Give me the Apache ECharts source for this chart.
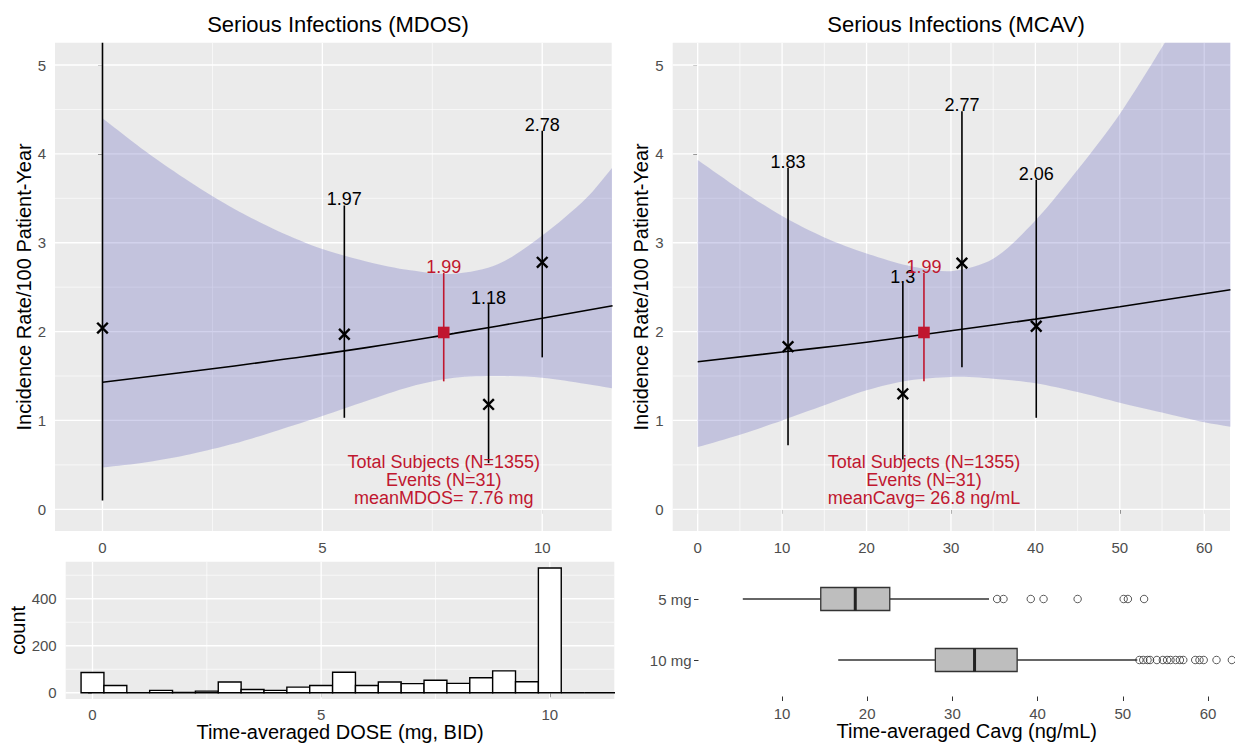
<!DOCTYPE html>
<html>
<head>
<meta charset="utf-8">
<script src="https://cdn.jsdelivr.net/npm/echarts@6.0.0/dist/echarts.min.js"></script>
<style>html,body{margin:0;padding:0;background:#fff}#c{width:1235px;height:743px}</style>
</head>
<body>
<div id="c"></div>
<script>
// ---------------- DATA ----------------
// Left panel: incidence vs time-averaged dose (MDOS)
const mdosX     = [0, 5.5, 8.78, 10];
const mdosRate  = [2.04, 1.97, 1.18, 2.78];
const mdosLow   = [0.10, 1.03, 0.52, 1.71];
const mdosHigh  = [5.6, 3.42, 2.31, 4.26];
const mdosMean  = [7.76, 1.99, 1.44, 2.66];          // x, rate, low, high
const mdosFitX  = [0, 2, 4, 6, 8, 10, 11.6];
const mdosFitY  = [1.43, 1.55, 1.68, 1.82, 1.98, 2.15, 2.29];
const mdosBandX = [0, 1, 2, 3, 4, 5, 6, 7, 8, 9, 10, 11, 11.6];
const mdosBandLow  = [0.47, 0.53, 0.62, 0.74, 0.89, 1.05, 1.22, 1.38, 1.48, 1.50, 1.48, 1.41, 1.36];
const mdosBandHigh = [4.40, 4.02, 3.68, 3.38, 3.13, 2.93, 2.79, 2.69, 2.65, 2.76, 3.08, 3.50, 3.85];
const mdosNote  = ['Total Subjects (N=1355)', 'Events (N=31)', 'meanMDOS= 7.76 mg'];

// Right panel: incidence vs Cavg (MCAV)
const mcavX     = [10.7, 24.3, 31.3, 40.1];
const mcavRate  = [1.83, 1.3, 2.77, 2.06];
const mcavLow   = [0.72, 0.56, 1.60, 1.03];
const mcavHigh  = [3.84, 2.55, 4.48, 3.71];
const mcavMean  = [26.8, 1.99, 1.44, 2.66];
const mcavFitX  = [0, 10, 20, 30, 40, 50, 63.1];
const mcavFitY  = [1.66, 1.77, 1.88, 2.01, 2.14, 2.28, 2.47];
const mcavBandX = [0, 5, 10, 15, 20, 25, 30, 35, 40, 45, 50, 55, 60, 63.1];
const mcavBandLow  = [0.70, 0.84, 1.00, 1.17, 1.34, 1.45, 1.49, 1.47, 1.42, 1.32, 1.20, 1.09, 0.98, 0.93];
const mcavBandHigh = [3.93, 3.60, 3.30, 3.06, 2.88, 2.74, 2.68, 2.82, 3.25, 3.82, 4.45, 5.20, 6.00, 6.50];
const mcavNote  = ['Total Subjects (N=1355)', 'Events (N=31)', 'meanCavg= 26.8 ng/mL'];

// Histogram of time-averaged dose
const histBinWidth = 0.5;
const histCenters = [0, 0.5, 1, 1.5, 2, 2.5, 3, 3.5, 4, 4.5, 5, 5.5, 6, 6.5, 7, 7.5, 8, 8.5, 9, 9.5, 10, 10.5, 11, 11.5];
const histCounts  = [86, 31, 0, 10, 1, 7, 46, 14, 10, 24, 31, 87, 31, 46, 39, 53, 40, 64, 93, 47, 531, 0, 0, 0];

// Boxplot of Cavg by dose group: [min, q1, median, q3, max]
const boxCats  = ['5 mg', '10 mg'];
const boxStats = [[5.4, 14.55, 18.6, 22.65, 34.3], [16.6, 28.0, 32.6, 37.6, 51.7]];
const outliers5  = [35.25, 36.0, 39.2, 40.7, 44.7, 50.1, 50.6, 52.5];
const outliers10 = [51.95, 52.4, 52.9, 53.2, 54.0, 54.7, 55.2, 55.6, 56.2, 56.7, 57.1, 58.5, 59.0, 59.5, 61.0, 62.8];

// Tick values
const rateTicks = [0, 1, 2, 3, 4, 5];
const rateMinor = [0.5, 1.5, 2.5, 3.5, 4.5];
const doseTicks = [0, 5, 10];
const doseMinor = [2.5, 7.5];
const cavgTicks = [0, 10, 20, 30, 40, 50, 60];
const cavgMinor = [5, 15, 25, 35, 45, 55];
const countTicks = [0, 200, 400];
const countMinor = [100, 300, 500];
const boxTicks = [10, 20, 30, 40, 50, 60];

// ---------------- STYLE / HELPERS ----------------
const FF = '"Liberation Sans", Arial, Helvetica, sans-serif';
const RED = '#C0172F';
const BAND = 'rgba(95,95,185,0.28)';
const TICKC = '#4D4D4D';
const TICKFS = 15;

function gridLineData(vMaj, vMin, hMaj, hMin) {
  const d = [];
  vMin.forEach(v => d.push([v, 0, 0]));
  hMin.forEach(v => d.push([v, 0, 1]));
  vMaj.forEach(v => d.push([v, 1, 0]));
  hMaj.forEach(v => d.push([v, 1, 1]));
  return d;
}
function gridLineRender(params, api) {
  const v = api.value(0), major = api.value(1), dir = api.value(2);
  const cs = params.coordSys;
  const lw = major ? 1.3 : 0.65;
  if (dir === 0) {
    const x = api.coord([v, 0])[0];
    return {type: 'line', shape: {x1: x, y1: cs.y, x2: x, y2: cs.y + cs.height}, style: {stroke: '#fff', lineWidth: lw}};
  }
  const y = api.coord([0, v])[1];
  return {type: 'line', shape: {x1: cs.x, y1: y, x2: cs.x + cs.width, y2: y}, style: {stroke: '#fff', lineWidth: lw}};
}
function bandRender(bx, blo, bhi) {
  return function (params, api) {
    const n = bx.length;
    const up = bx.map((x, i) => api.coord([x, bhi[i]]));
    const dn = bx.map((x, i) => api.coord([x, blo[i]])).reverse();
    // corner points are doubled so that the smoothing keeps the band's end edges straight
    const pts = [up[0]].concat(up, [up[n - 1]], [dn[0]], dn, [dn[n - 1]]);
    let x0 = Infinity, y0 = Infinity, x1 = -Infinity, y1 = -Infinity;
    pts.forEach(p => { x0 = Math.min(x0, p[0]); x1 = Math.max(x1, p[0]); y0 = Math.min(y0, p[1]); y1 = Math.max(y1, p[1]); });
    return {type: 'polygon', shape: {points: pts, smooth: 0.3, smoothConstraint: [[x0, y0], [x1, y1]]}, style: {fill: BAND}};
  };
}
function pointRender(labels, color, square) {
  return function (params, api) {
    const x = api.value(0), r = api.value(1), lo = api.value(2), hi = api.value(3);
    const cs = params.coordSys;
    const pLo = api.coord([x, lo]), pHi = api.coord([x, hi]), p = api.coord([x, r]);
    const ch = [{type: 'line', shape: {x1: pLo[0], y1: pLo[1], x2: pHi[0], y2: pHi[1]}, style: {stroke: color, lineWidth: 1.6}}];
    if (square) {
      ch.push({type: 'rect', shape: {x: p[0] - 5.8, y: p[1] - 5.8, width: 11.6, height: 11.6}, style: {fill: color}});
    } else {
      const s = 5.3;
      ch.push({type: 'line', shape: {x1: p[0] - s, y1: p[1] - s, x2: p[0] + s, y2: p[1] + s}, style: {stroke: '#000', lineWidth: 2.4}});
      ch.push({type: 'line', shape: {x1: p[0] - s, y1: p[1] + s, x2: p[0] + s, y2: p[1] - s}, style: {stroke: '#000', lineWidth: 2.4}});
    }
    // value label sits just above the upper CI; hidden when the CI runs off the top of the panel
    if (pHi[1] > cs.y + 10) {
      ch.push({type: 'text', x: pHi[0], y: pHi[1] + 3,
        style: {text: labels[params.dataIndex], fill: color, font: '18px ' + FF,
                align: 'center', verticalAlign: 'bottom', textAlign: 'center', textVerticalAlign: 'bottom'}});
    }
    return {type: 'group', children: ch};
  };
}
function noteRender(lines) {
  return function (params, api) {
    const p = api.coord([api.value(0), api.value(1)]);
    const lh = 18.4;
    return {type: 'group', children: lines.map((t, k) => ({
      type: 'text', x: p[0], y: p[1] + (k - 1) * lh,
      style: {text: t, fill: RED, font: '18px ' + FF,
              align: 'center', verticalAlign: 'middle', textAlign: 'center', textVerticalAlign: 'middle'}}))};
  };
}
function zip(a, b) { return a.map((v, i) => [v, b[i]]); }

function valAxis(gridIndex, min, max, ticks, extra) {
  return Object.assign({
    type: 'value', gridIndex, min, max,
    axisLine: {show: false},
    axisTick: {show: true, length: 4.5, lineStyle: {color: '#333', width: 1}, customValues: ticks},
    axisLabel: {color: TICKC, fontSize: TICKFS, fontFamily: FF, margin: 9, customValues: ticks},
    splitLine: {show: false}, minorSplitLine: {show: false}, nameMoveOverlap: false
  }, extra || {});
}

const gridBase = {show: true, backgroundColor: '#EBEBEB', borderWidth: 0, containLabel: false, outerBoundsMode: 'none'};
const TITLE_STYLE = {fontSize: 22, fontWeight: 'normal', color: '#000', fontFamily: FF};
const NAME_STYLE = {fontSize: 20, color: '#000', fontFamily: FF};

const option = {
  animation: false,
  backgroundColor: '#fff',
  textStyle: {fontFamily: FF},
  title: [
    {text: 'Serious Infections (MDOS)', left: 333, top: 8, textAlign: 'center', textStyle: TITLE_STYLE},
    {text: 'Serious Infections (MCAV)', left: 951, top: 8, textAlign: 'center', textStyle: TITLE_STYLE}
  ],
  grid: [
    Object.assign({left: 55, top: 42.7, width: 556.7, height: 488.3}, gridBase),
    Object.assign({left: 672.7, top: 42.7, width: 557.3, height: 488.3}, gridBase),
    Object.assign({left: 65.7, top: 561.7, width: 548.6, height: 137.3}, gridBase),
    {left: 698.5, top: 568.5, width: 536.5, height: 122, show: false, containLabel: false, outerBoundsMode: 'none'}
  ],
  xAxis: [
    valAxis(0, -1.08, 11.58, doseTicks),
    valAxis(1, -2.96, 63.05, cavgTicks),
    valAxis(2, -0.586, 11.41, doseTicks, {
      name: 'Time-averaged DOSE (mg, BID)', nameLocation: 'middle', nameGap: 23,
      nameTextStyle: Object.assign({verticalAlign: 'top'}, NAME_STYLE),
      axisLabel: {color: TICKC, fontSize: TICKFS, fontFamily: FF, margin: 8, customValues: doseTicks}
    }),
    valAxis(3, 0.2, 63.17, boxTicks, {
      offset: 6,
      name: 'Time-averaged Cavg (ng/mL)', nameLocation: 'middle', nameGap: 24,
      nameTextStyle: Object.assign({verticalAlign: 'top'}, NAME_STYLE),
      axisLabel: {color: TICKC, fontSize: TICKFS, fontFamily: FF, margin: 9, customValues: boxTicks}
    })
  ],
  yAxis: [
    valAxis(0, -0.244, 5.251, rateTicks, {
      name: 'Incidence Rate/100 Patient-Year', nameLocation: 'middle', nameGap: 21, nameRotate: 90,
      nameTextStyle: NAME_STYLE
    }),
    valAxis(1, -0.244, 5.251, rateTicks, {
      name: 'Incidence Rate/100 Patient-Year', nameLocation: 'middle', nameGap: 22, nameRotate: 90,
      nameTextStyle: NAME_STYLE
    }),
    valAxis(2, -26.55, 557.55, countTicks, {
      name: 'count', nameLocation: 'middle', nameGap: 38, nameRotate: 90,
      nameTextStyle: NAME_STYLE
    }),
    {type: 'category', gridIndex: 3, data: boxCats, inverse: true,
     axisLine: {show: false},
     axisTick: {show: true, alignWithLabel: true, length: 4.5, lineStyle: {color: '#333'}},
     axisLabel: {color: TICKC, fontSize: TICKFS, fontFamily: FF, margin: 7},
     splitLine: {show: false}}
  ],
  series: [
    // grid lines
    {type: 'custom', xAxisIndex: 0, yAxisIndex: 0, z: 1, silent: true, clip: true,
     data: gridLineData(doseTicks, doseMinor, rateTicks, rateMinor), renderItem: gridLineRender},
    {type: 'custom', xAxisIndex: 1, yAxisIndex: 1, z: 1, silent: true, clip: true,
     data: gridLineData(cavgTicks, cavgMinor, rateTicks, rateMinor), renderItem: gridLineRender},
    {type: 'custom', xAxisIndex: 2, yAxisIndex: 2, z: 1, silent: true, clip: true,
     data: gridLineData(doseTicks, doseMinor, countTicks, countMinor), renderItem: gridLineRender},

    // MDOS panel
    {type: 'custom', xAxisIndex: 0, yAxisIndex: 0, z: 2, silent: true, clip: true,
     data: [[mdosBandX[0], mdosBandLow[0]]], renderItem: bandRender(mdosBandX, mdosBandLow, mdosBandHigh)},
    {type: 'line', xAxisIndex: 0, yAxisIndex: 0, z: 3, smooth: true, symbol: 'none', silent: true,
     lineStyle: {color: '#000', width: 1.6}, data: zip(mdosFitX, mdosFitY)},
    {type: 'custom', xAxisIndex: 0, yAxisIndex: 0, z: 4, clip: true,
     data: mdosX.map((x, i) => [x, mdosRate[i], mdosLow[i], mdosHigh[i]]),
     renderItem: pointRender(mdosRate.map(String), '#000', false)},
    {type: 'custom', xAxisIndex: 0, yAxisIndex: 0, z: 4, clip: true,
     data: [mdosMean], renderItem: pointRender([String(mdosMean[1])], RED, true)},
    {type: 'custom', xAxisIndex: 0, yAxisIndex: 0, z: 4, clip: true,
     data: [[mdosMean[0], 0.33]], renderItem: noteRender(mdosNote)},

    // MCAV panel
    {type: 'custom', xAxisIndex: 1, yAxisIndex: 1, z: 2, silent: true, clip: true,
     data: [[mcavBandX[0], mcavBandLow[0]]], renderItem: bandRender(mcavBandX, mcavBandLow, mcavBandHigh)},
    {type: 'line', xAxisIndex: 1, yAxisIndex: 1, z: 3, smooth: true, symbol: 'none', silent: true,
     lineStyle: {color: '#000', width: 1.6}, data: zip(mcavFitX, mcavFitY)},
    {type: 'custom', xAxisIndex: 1, yAxisIndex: 1, z: 4, clip: true,
     data: mcavX.map((x, i) => [x, mcavRate[i], mcavLow[i], mcavHigh[i]]),
     renderItem: pointRender(mcavRate.map(String), '#000', false)},
    {type: 'custom', xAxisIndex: 1, yAxisIndex: 1, z: 4, clip: true,
     data: [mcavMean], renderItem: pointRender([String(mcavMean[1])], RED, true)},
    {type: 'custom', xAxisIndex: 1, yAxisIndex: 1, z: 4, clip: true,
     data: [[mcavMean[0], 0.33]], renderItem: noteRender(mcavNote)},

    // histogram
    {type: 'custom', xAxisIndex: 2, yAxisIndex: 2, z: 3, clip: true,
     data: zip(histCenters, histCounts),
     renderItem: function (params, api) {
       const c = api.value(0), n = api.value(1);
       const p0 = api.coord([c - histBinWidth / 2, n]);
       const p1 = api.coord([c + histBinWidth / 2, 0]);
       return {type: 'rect', shape: {x: p0[0], y: p0[1], width: p1[0] - p0[0], height: p1[1] - p0[1]},
               style: {fill: '#fff', stroke: '#000', lineWidth: 1.4}};
     }},

    // boxplot
    {type: 'custom', xAxisIndex: 3, yAxisIndex: 3, z: 3,
     encode: {x: 0, y: 1},
     data: boxStats.map((s, i) => [s[2], i, s[0], s[1], s[3], s[4]]),
     renderItem: function (params, api) {
       const cat = api.value(1);
       const med = api.coord([api.value(0), cat]);
       const lo = api.coord([api.value(2), cat])[0];
       const q1 = api.coord([api.value(3), cat])[0];
       const q3 = api.coord([api.value(4), cat])[0];
       const hi = api.coord([api.value(5), cat])[0];
       const y = med[1], h = 11.5, st = '#333';
       return {type: 'group', children: [
         {type: 'line', shape: {x1: lo, y1: y, x2: q1, y2: y}, style: {stroke: st, lineWidth: 1.3}},
         {type: 'line', shape: {x1: q3, y1: y, x2: hi, y2: y}, style: {stroke: st, lineWidth: 1.3}},
         {type: 'rect', shape: {x: q1, y: y - h, width: q3 - q1, height: 2 * h}, style: {fill: '#BEBEBE', stroke: st, lineWidth: 1.3}},
         {type: 'line', shape: {x1: med[0], y1: y - h, x2: med[0], y2: y + h}, style: {stroke: '#222', lineWidth: 3}}
       ]};
     }},
    {type: 'scatter', xAxisIndex: 3, yAxisIndex: 3, z: 4, symbol: 'circle', symbolSize: 7.5,
     itemStyle: {color: 'rgba(0,0,0,0)', borderColor: '#333', borderWidth: 1},
     data: outliers5.map(v => [v, 0])},
    {type: 'scatter', xAxisIndex: 3, yAxisIndex: 3, z: 4, symbol: 'circle', symbolSize: 7.5,
     itemStyle: {color: 'rgba(0,0,0,0)', borderColor: '#333', borderWidth: 1},
     data: outliers10.map(v => [v, 1])}
  ]
};

const chart = echarts.init(document.getElementById('c'), null, {renderer: 'svg', width: 1235, height: 743});
chart.setOption(option);
</script>
</body>
</html>
